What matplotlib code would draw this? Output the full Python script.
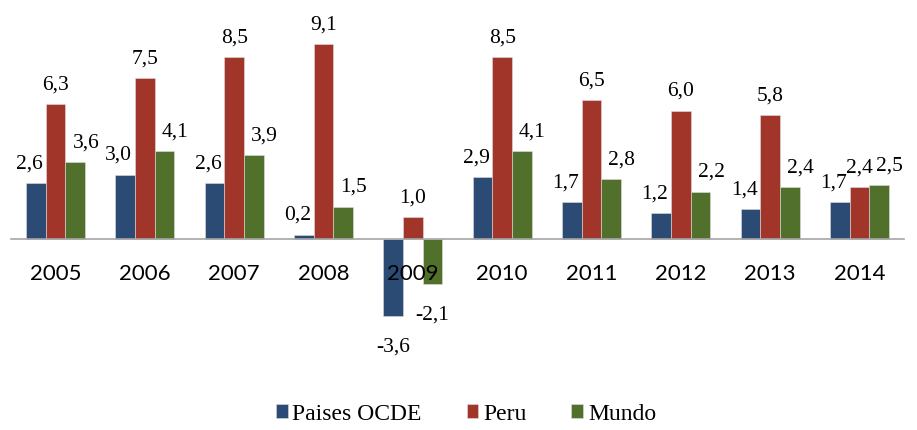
import matplotlib.pyplot as plt
import numpy as np

years = ['2005', '2006', '2007', '2008', '2009', '2010', '2011', '2012', '2013', '2014']
ocde = [2.6, 3.0, 2.6, 0.2, -3.6, 2.9, 1.7, 1.2, 1.4, 1.7]
peru = [6.3, 7.5, 8.5, 9.1, 1.0, 8.5, 6.5, 6.0, 5.8, 2.4]
mundo = [3.6, 4.1, 3.9, 1.5, -2.1, 4.1, 2.8, 2.2, 2.4, 2.5]

series_names = ['Paises OCDE', 'Peru', 'Mundo']
colors = ['#2B4A74', '#A2352A', '#51702C']

W, H = 917, 430
fig = plt.figure(figsize=(W / 100, H / 100), dpi=100)
ax = fig.add_axes([11 / W, (H - 335) / H, (904 - 11) / W, 310 / H])

x = np.arange(len(years))
w = 0.22
serif = 'Liberation Serif'

def fmt(v):
    return f'{v:.1f}'.replace('.', ',')

# spine first, it resets the ticks
for s in ['top', 'right', 'left']:
    ax.spines[s].set_visible(False)
ax.spines['bottom'].set_position(('data', 0))
ax.spines['bottom'].set_color('#a6a6a6')
ax.spines['bottom'].set_linewidth(1.2)
ax.patch.set_alpha(0)

bars = []
for i, (vals, name, c) in enumerate(zip([ocde, peru, mundo], series_names, colors)):
    b = ax.bar(x + (i - 1) * w, vals, w, color=c, label=name,
               edgecolor='#dddddd', linewidth=0.4)
    bars.append(b)
    for rect, v in zip(b, vals):
        cx = rect.get_x()
        if v < 0:
            ax.annotate(fmt(v), (cx + w / 2, v), xytext=(0, -16), textcoords='offset points',
                        ha='center', va='top', fontsize=15.5, family=serif)
            continue
        if i == 0:
            px, ha, dx = cx + w, 'right', -2
        elif i == 1:
            px, ha, dx = cx + w / 2, 'center', 0
        else:
            px, ha, dx = cx, 'left', 5
        ax.annotate(fmt(v), (px, v), xytext=(dx, 7), textcoords='offset points',
                    ha=ha, va='bottom', fontsize=15.5, family=serif)

ax.set_xlim(-0.5, 9.5)
ax.set_ylim(-4.5, 10)
ax.set_xticks(x)
ax.set_xticklabels(years, family='Lato', fontsize=16)
ax.tick_params(axis='x', length=0, pad=18)
ax.set_yticks([])

fig.legend(handles=bars, labels=series_names, loc='center', bbox_to_anchor=(466 / W, (H - 414) / H),
           ncol=3, frameon=False, prop={'family': serif, 'size': 17},
           handlelength=0.5, handleheight=0.5, handletextpad=0.2, columnspacing=1.9)

fig.savefig('out.png', dpi=100)
